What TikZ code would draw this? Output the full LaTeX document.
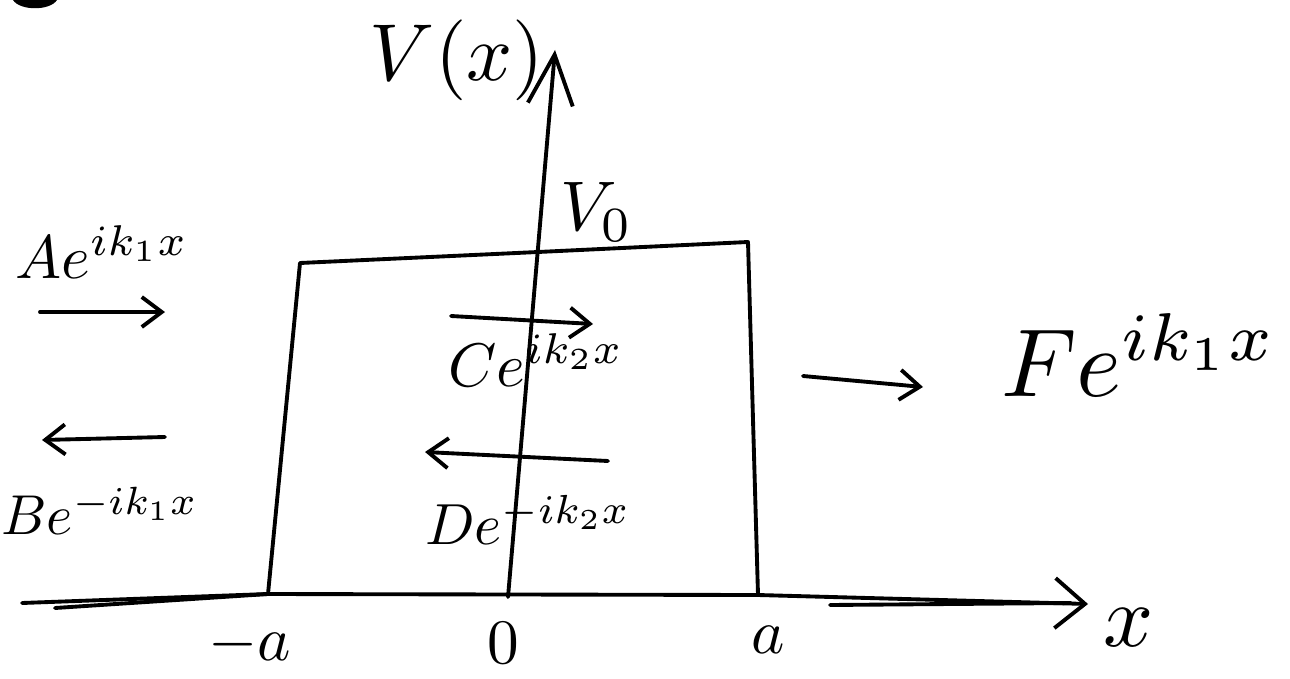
\documentclass[tikz,border=0pt]{standalone}
\usetikzlibrary{arrows.meta}

\begin{document}
\begin{tikzpicture}[x=0.1mm,y=-0.1mm,
  ink/.style={line width=1.1pt,line cap=round,line join=round},
  wave/.style={ink,-{Straight Barb[length=2mm,width=3mm]}},
  lbl/.style={inner sep=0pt}]
\useasboundingbox (0,0) rectangle (1290,678);
\fill (13,0) .. controls (20,11) and (50,11) .. (57,0) -- cycle;
% axes
\coordinate (xs) at (22,603);
\coordinate (xe) at (1088,604);
\coordinate (ys) at (508,597);
\coordinate (ye) at (555,50);
\coordinate (wl) at (268,594);
\coordinate (wr) at (758,595);
\draw[ink,-{Straight Barb[length=3mm,width=5mm]}] (xs) -- (wl) -- (wr) -- (xe);
\draw[ink] (55,608) -- (wl);
\draw[ink] (830,605) -- (1071,603);
\draw[ink,-{Straight Barb[length=5mm,width=4.5mm]}] (ys) -- (ye);
% barrier
\draw[ink] (wl) -- (300,263) -- (538,252) -- (748,242) -- (753,420) -- (wr);
% labels
\node[lbl,scale=2.3] (vx) at (457,60) {$V(x)$};
\node[lbl,scale=2] (v0) at (597,212) {$V_0$};
\node[lbl,scale=1.75] (amp) at (102,252) {$Ae^{ik_1x}$};
\node[lbl,scale=1.6] (bmp) at (100,511) {$Be^{-ik_1x}$};
\node[lbl,scale=1.75] (cmp) at (536,360) {$Ce^{ik_2x}$};
\node[lbl,scale=1.65] (dmp) at (528,520) {$De^{-ik_2x}$};
\node[lbl,scale=2.75] (fmp) at (1139,355) {$Fe^{ik_1x}$};
\node[lbl,scale=1.8] (ma) at (250,645) {$-a$};
\node[lbl,scale=1.8] (zero) at (503,643) {$0$};
\node[lbl,scale=1.8] (pa) at (768,640) {$a$};
\node[lbl,scale=2.5] (xl) at (1129,628) {$x$};
% waves
\coordinate (a1) at (40,312);
\coordinate (a2) at (165,312);
\coordinate (b1) at (165,437);
\coordinate (b2) at (42,440);
\coordinate (c1) at (451,316);
\coordinate (c2) at (593,324);
\coordinate (d1) at (608,461);
\coordinate (d2) at (425,452);
\coordinate (f1) at (803,376);
\coordinate (f2) at (923,387);
\draw[wave] (a1) -- (a2);
\draw[wave] (b1) -- (b2);
\draw[wave] (c1) -- (c2);
\draw[wave] (d1) -- (d2);
\draw[wave] (f1) -- (f2);
\end{tikzpicture}
\end{document}
